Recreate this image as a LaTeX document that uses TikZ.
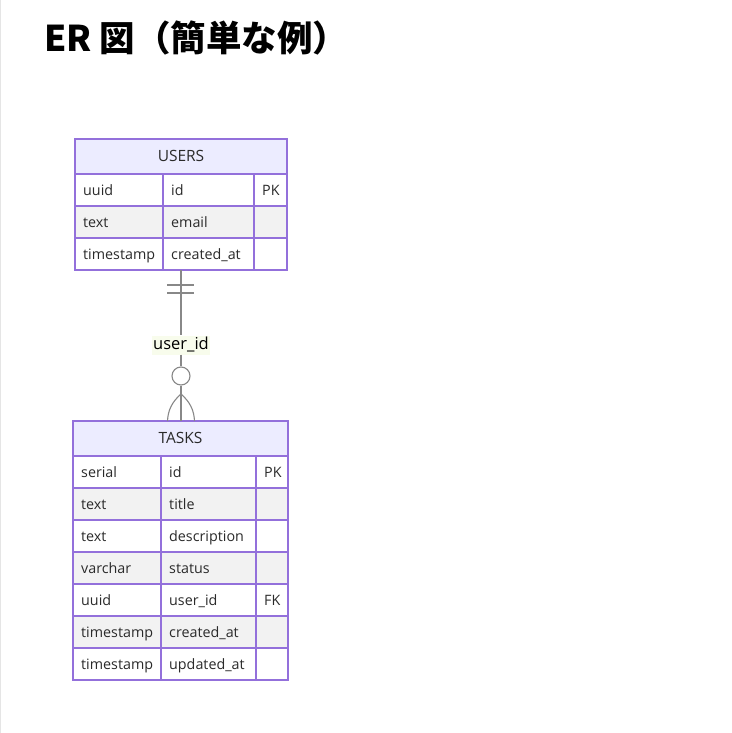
\documentclass[tikz,border=0pt]{standalone}
\usepackage{fontspec}
\setmainfont{Open Sans}
\newfontfamily\cjkfont{Noto Sans CJK JP}
\definecolor{erborder}{HTML}{9370DB}
\definecolor{erhead}{HTML}{ECECFF}
\definecolor{erodd}{HTML}{F2F2F2}
\definecolor{ertext}{HTML}{2A2A2A}
\definecolor{erline}{HTML}{888888}
\definecolor{erlabel}{HTML}{F8FCEC}
\begin{document}
\begin{tikzpicture}[x=1pt,y=-1pt,
  cell/.style={draw=erborder,line width=1.5pt},
  celltext/.style={anchor=base west,inner sep=0pt,font=\fontsize{14.3}{16}\selectfont,text=ertext},
  headtext/.style={anchor=base,inner sep=0pt,font=\fontsize{15.5}{18}\selectfont,text=ertext},
  rel/.style={draw=erline,line width=1.1pt}]
\useasboundingbox (0,0) rectangle (731,733);
\fill[white] (0,0) rectangle (731,733);
\fill[black!10] (0,0) rectangle (1.2,733);
% title
\node[anchor=base west,inner sep=0pt,font=\cjkfont\bfseries\fontsize{35.5}{40}\selectfont] (title) at (44,52) {ER 図（簡単な例）};
% USERS table
\def\ux{75}\def\uxa{163}\def\uxb{254}\def\uxr{287}
\filldraw[cell,fill=erhead] (\ux,139) rectangle (\uxr,174);
\node[headtext] (usershead) at (181,161.5) {USERS};
\foreach \r/\a/\b/\c/\f [count=\i from 0] in {uuid/id/PK/white, text/email//erodd, timestamp/created\_at//white}{
  \pgfmathsetmacro{\yt}{174+32*\i}
  \pgfmathsetmacro{\yb}{206+32*\i}
  \filldraw[cell,fill=\f] (\ux,\yt) rectangle (\uxa,\yb);
  \filldraw[cell,fill=\f] (\uxa,\yt) rectangle (\uxb,\yb);
  \filldraw[cell,fill=\f] (\uxb,\yt) rectangle (\uxr,\yb);
  \node[celltext] at (83,\yt+21.5) {\r};
  \node[celltext] at (171,\yt+21.5) {\a};
  \node[celltext] at (262,\yt+21.5) {\b};
}
\draw[cell] (\ux,139) rectangle (\uxr,270);
\coordinate (usersbot) at (181,270);
% TASKS table
\def\tx{73}\def\txa{161}\def\txb{256}\def\txr{288}
\filldraw[cell,fill=erhead] (\tx,421) rectangle (\txr,456);
\node[headtext] (taskshead) at (180.5,443.5) {TASKS};
\foreach \r/\a/\b/\f [count=\i from 0] in {serial/id/PK/white, text/title//erodd, text/description//white, varchar/status//erodd, uuid/user\_id/FK/white, timestamp/created\_at//erodd, timestamp/updated\_at//white}{
  \pgfmathsetmacro{\yt}{456+32*\i}
  \pgfmathsetmacro{\yb}{488+32*\i}
  \filldraw[cell,fill=\f] (\tx,\yt) rectangle (\txa,\yb);
  \filldraw[cell,fill=\f] (\txa,\yt) rectangle (\txb,\yb);
  \filldraw[cell,fill=\f] (\txb,\yt) rectangle (\txr,\yb);
  \node[celltext] at (81,\yt+21.5) {\r};
  \node[celltext] at (169,\yt+21.5) {\a};
  \node[celltext] at (264,\yt+21.5) {\b};
}
\draw[cell] (\tx,421) rectangle (\txr,680);
\coordinate (taskstop) at (181,421);
% relationship
\node[fill=erlabel,inner sep=1.5pt,font=\fontsize{16.5}{19}\selectfont,text=black,text height=12pt,text depth=4pt] (lbl) at (181,345) {user\_id};
\draw[rel] (usersbot) -- (lbl.north);
\node[circle,draw=erline,line width=1.1pt,minimum size=18pt,inner sep=0pt] (circ) at (181,376) {};
\draw[rel] (lbl.south) -- (circ.north);
\draw[rel] (circ.south) -- (taskstop);
\draw[rel] (167,285) -- (194,285);
\draw[rel] (167,293) -- (194,293);
\draw[rel] (181,394) .. controls (172,402) and (168,410) .. (167.5,421);
\draw[rel] (181,394) .. controls (190,402) and (194,410) .. (194.5,421);
\end{tikzpicture}
\end{document}
